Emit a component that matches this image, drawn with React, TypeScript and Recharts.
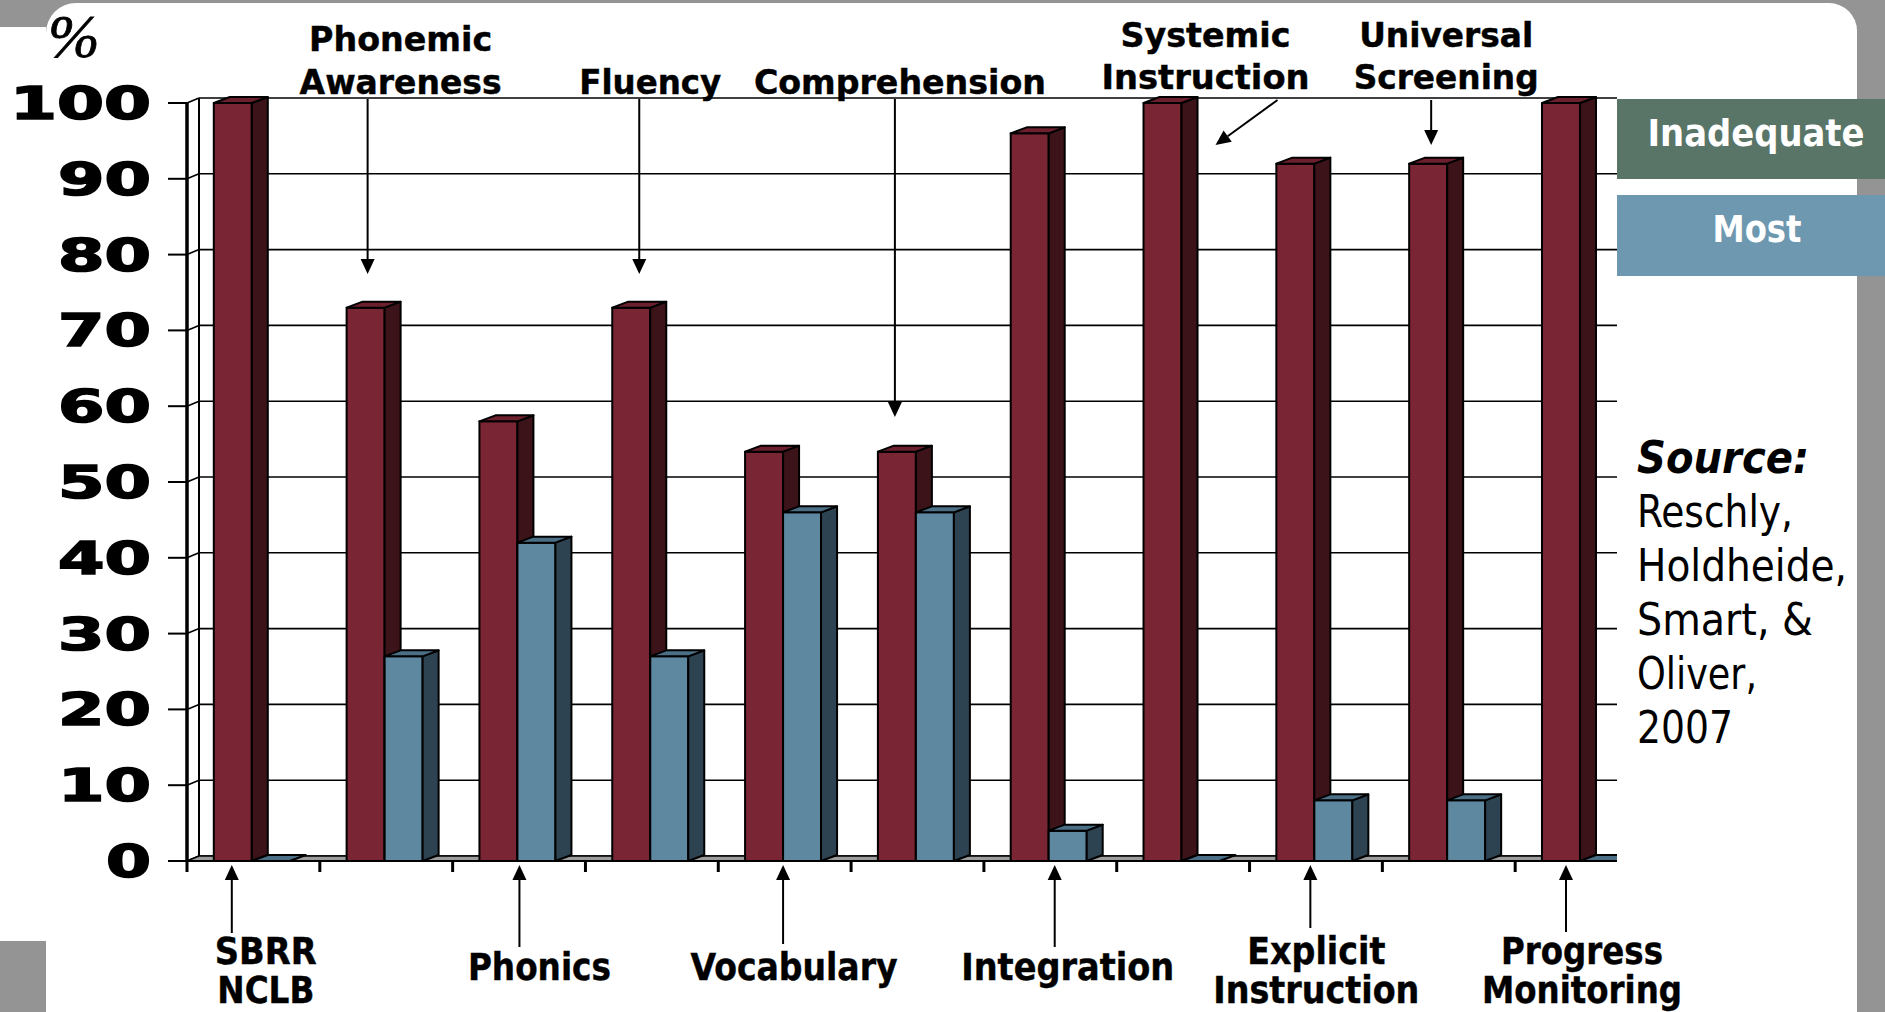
import React from "react";
import {
  Bar,
  BarChart,
  CartesianGrid,
  LabelList,
  ReferenceArea,
  XAxis,
  YAxis,
} from "recharts";

// values
const categories = [
  "SBRR NCLB",
  "Phonemic Awareness",
  "Phonics",
  "Fluency",
  "Vocabulary",
  "Comprehension",
  "Integration",
  "Systemic Instruction",
  "Explicit Instruction",
  "Universal Screening",
  "Progress Monitoring",
];
const inadequate = [100, 73, 58, 73, 54, 54, 96, 100, 92, 92, 100];
const most = [0, 27, 42, 27, 46, 46, 4, 0, 8, 8, 0];
const yTicks = [0, 10, 20, 30, 40, 50, 60, 70, 80, 90, 100];
const legendLabels = ["Inadequate", "Most"];
const sourceLines = ["Reschly,", "Holdheide,", "Smart, &", "Oliver,", "2007"];

const data = categories.map((name, i) => ({
  name,
  inadequate: inadequate[i],
  most: most[i],
}));

const W = 1885;
const H = 1012;
const PLOT_W = 1461;
const BAND = PLOT_W / categories.length;
const WD = 12; // wall depth
const WE = 5;
const BD = 16; // bar depth
const BE = 6;
const GRAY = "#949494";
const FONT = "'DejaVu Sans Condensed', 'DejaVu Sans', sans-serif";

// annotation layout, offsets relative to the left edge of each maroon bar
type Note = {
  top: boolean;
  lines: string[];
  widths: number[];
  base: number[];
  dx: number;
  lx: number;
  y1: number;
  y2: number;
  diag?: number;
};
const notes: Note[] = [
  { top: false, lines: ["SBRR", "NCLB"], widths: [102, 97], base: [964, 1003], dx: 18, lx: 52, y1: 933, y2: 865 },
  { top: true, lines: ["Phonemic", "Awareness"], widths: [183, 202], base: [51, 94], dx: 21, lx: 54, y1: 99, y2: 274 },
  { top: false, lines: ["Phonics"], widths: [143], base: [980], dx: 40, lx: 60, y1: 947, y2: 865 },
  { top: true, lines: ["Fluency"], widths: [142], base: [94], dx: 27, lx: 38, y1: 99, y2: 274 },
  { top: false, lines: ["Vocabulary"], widths: [207], base: [980], dx: 38, lx: 49, y1: 944, y2: 865 },
  { top: true, lines: ["Comprehension"], widths: [292], base: [94], dx: 17, lx: 22, y1: 99, y2: 417 },
  { top: false, lines: ["Integration"], widths: [213], base: [980], dx: 44, lx: 57, y1: 947, y2: 865 },
  { top: true, lines: ["Systemic", "Instruction"], widths: [170, 208], base: [47, 89], dx: 72, lx: 62, y1: 100, y2: 145, diag: 134 },
  { top: false, lines: ["Explicit", "Instruction"], widths: [138, 206], base: [964, 1003], dx: 34, lx: 40, y1: 928, y2: 865 },
  { top: true, lines: ["Universal", "Screening"], widths: [174, 185], base: [47, 89], dx: 22, lx: 37, y1: 100, y2: 145 },
  { top: false, lines: ["Progress", "Monitoring"], widths: [162, 200], base: [964, 1003], dx: 24, lx: 40, y1: 932, y2: 865 },
];

const Arrow = ({ x1, y1, x2, y2 }: { x1: number; y1: number; x2: number; y2: number }) => {
  const len = Math.hypot(x2 - x1, y2 - y1);
  const ux = (x2 - x1) / len;
  const uy = (y2 - y1) / len;
  const hl = 15;
  const hw = 7;
  const bx = x2 - ux * hl;
  const by = y2 - uy * hl;
  return (
    <g>
      <line x1={x1} y1={y1} x2={bx} y2={by} stroke="#000" strokeWidth={2} />
      <polygon
        points={`${x2},${y2} ${bx - uy * hw},${by + ux * hw} ${bx + uy * hw},${by - ux * hw}`}
        fill="#000"
      />
    </g>
  );
};

const renderNote = (p: any) => {
  const i = p.index;
  const n = notes[i];
  if (!n) return null;
  const rawX = p.x ?? p.viewBox?.x;
  const bx = rawX - 2;
  const ax2 = bx + n.dx;
  const ax1 = n.diag != null ? bx + n.diag : ax2;
  return (
    <g key={`note-${i}`}>
      <Arrow x1={ax1} y1={n.y1} x2={ax2} y2={n.y2} />
      {n.lines.map((t, k) => (
        <text
          key={k}
          x={bx + n.lx}
          y={n.base[k]}
          textAnchor="middle"
          fontFamily={FONT}
          fontWeight="bold"
          fontSize={n.top ? 33 : 37}
          textLength={n.widths[k]}
          lengthAdjust="spacingAndGlyphs"
          fill="#000"
          stroke="#000"
          strokeWidth={0.4}
        >
          {t}
        </text>
      ))}
    </g>
  );
};

const makeBox = (front: string, side: string, top: string) => (p: any) => {
  const { x, y, width, height } = p;
  if (x == null || y == null) return null;
  const X = x - 2;
  const h = Math.max(height || 0, 0);
  const topPath = `M${X},${y} L${X + width},${y} L${X + width + BD},${y - BE} L${X + BD},${y - BE} Z`;
  const sidePath = `M${X + width},${y} L${X + width + BD},${y - BE} L${X + width + BD},${y + h - BE} L${X + width},${y + h} Z`;
  return (
    <g stroke="#000" strokeWidth={2} strokeLinejoin="round">
      {h > 0 && <rect x={X} y={y} width={width} height={h} fill={front} />}
      {h > 0 && <path d={sidePath} fill={side} />}
      <path d={topPath} fill={top} />
    </g>
  );
};

const MaroonBox = makeBox("#7a2533", "#3d131a", "#6c1f2c");
const BlueBox = makeBox("#5e87a0", "#2e4352", "#4b6f86");

const YTick = (p: any) => {
  const s = String(p.payload.value);
  return (
    <text
      x={p.x}
      y={p.y + 16}
      textAnchor="end"
      fontFamily="'DejaVu Sans', sans-serif"
      fontWeight="bold"
      fontSize={44}
      textLength={48 * s.length - 3}
      lengthAdjust="spacingAndGlyphs"
      fill="#000"
      stroke="#000"
      strokeWidth={1.6}
    >
      {s}
    </text>
  );
};

const XTick = (p: any) => {
  const x = p.x - BAND / 2;
  return <line x1={x} y1={p.y} x2={x} y2={p.y + 11} stroke="#000" strokeWidth={3} />;
};

const gridLine = (p: any) => (
  <g key={p.key}>
    <line x1={p.x1} y1={p.y1} x2={p.x1 + WD} y2={p.y1 - WE} stroke="#000" strokeWidth={1.6} />
    <line x1={p.x1 + WD} y1={p.y1 - WE} x2={p.x2 + WD} y2={p.y1 - WE} stroke="#000" strokeWidth={1.6} />
  </g>
);

const Walls = (p: any) => {
  const { x, y, width, height } = p;
  if (x == null) return null;
  const yb = y + height;
  return (
    <g>
      <path
        d={`M${x},${yb} L${x + width},${yb} L${x + width + WD},${yb - WE} L${x + WD},${yb - WE} Z`}
        fill="#9c9c9c"
        stroke="#000"
        strokeWidth={1.5}
      />
      <line x1={x + WD} y1={y - WE} x2={x + WD} y2={yb - WE} stroke="#000" strokeWidth={2} />
    </g>
  );
};

export default function App() {
  return (
    <div style={{ position: "absolute", left: 0, top: 0, width: W, height: H, background: GRAY, overflow: "hidden" }}>
      <div
        style={{
          position: "absolute",
          left: 46,
          top: 3,
          width: 1811,
          height: H - 3,
          background: "#fff",
          borderTopLeftRadius: 30,
          borderTopRightRadius: 28,
        }}
      />
      <div style={{ position: "absolute", left: 0, top: 27, width: 46, height: 914, background: "#fff" }} />

      <div style={{ position: "absolute", left: 0, top: 0 }}>
        <BarChart
          width={W}
          height={H}
          data={data}
          margin={{ top: 103, right: W - 187 - PLOT_W, bottom: H - 861 - 20, left: 0 }}
          barCategoryGap={28.8}
          barGap={0}
        >
          <ReferenceArea y1={0} y2={100} shape={Walls} ifOverflow="visible" />
          <CartesianGrid horizontal={gridLine} vertical={false} />
          <XAxis
            dataKey="name"
            height={20}
            interval={0}
            tickLine={false}
            tickSize={0}
            tickMargin={0}
            tick={XTick}
            axisLine={{ stroke: "#000", strokeWidth: 2 }}
          />
          <YAxis
            width={187}
            domain={[0, 100]}
            ticks={yTicks}
            interval={0}
            tickSize={19}
            tickMargin={17}
            tick={YTick}
            tickLine={{ stroke: "#000", strokeWidth: 2 }}
            axisLine={{ stroke: "#000", strokeWidth: 3.5 }}
          />
          <Bar dataKey="inadequate" shape={MaroonBox} isAnimationActive={false}>
            <LabelList dataKey="inadequate" content={renderNote} />
          </Bar>
          <Bar dataKey="most" shape={BlueBox} isAnimationActive={false} />
        </BarChart>
      </div>

      <svg width={W} height={H} style={{ position: "absolute", left: 0, top: 0, pointerEvents: "none" }}>
        <rect x={1617} y={60} width={240} height={840} fill="#fff" />
        <rect x={1617} y={99} width={268} height={80} fill="#587567" />
        <rect x={1617} y={195} width={268} height={81} fill="#6d98b0" />
        <text
          x={1756}
          y={146}
          textAnchor="middle"
          fontFamily={FONT}
          fontWeight="bold"
          fontSize={38}
          textLength={217}
          lengthAdjust="spacingAndGlyphs"
          fill="#fff"
        >
          {legendLabels[0]}
        </text>
        <text
          x={1757}
          y={242}
          textAnchor="middle"
          fontFamily={FONT}
          fontWeight="bold"
          fontSize={38}
          textLength={89}
          lengthAdjust="spacingAndGlyphs"
          fill="#fff"
        >
          {legendLabels[1]}
        </text>
        <text
          x={1637}
          y={473}
          fontFamily={FONT}
          fontWeight="bold"
          fontStyle="italic"
          fontSize={44}
          textLength={172}
          lengthAdjust="spacingAndGlyphs"
          fill="#000"
        >
          Source:
        </text>
        {sourceLines.map((t, k) => (
          <text
            key={t}
            x={1637}
            y={527 + k * 54}
            fontFamily={FONT}
            fontSize={44}
            textLength={[156, 210, 176, 120, 96][k]}
            lengthAdjust="spacingAndGlyphs"
            fill="#000"
          >
            {t}
          </text>
        ))}
        <text
          x={48}
          y={57}
          fontFamily="'Liberation Serif', serif"
          fontStyle="italic"
          fontSize={62}
          fill="#000"
          stroke="#000"
          strokeWidth={0.8}
        >
          %
        </text>
      </svg>
    </div>
  );
}
